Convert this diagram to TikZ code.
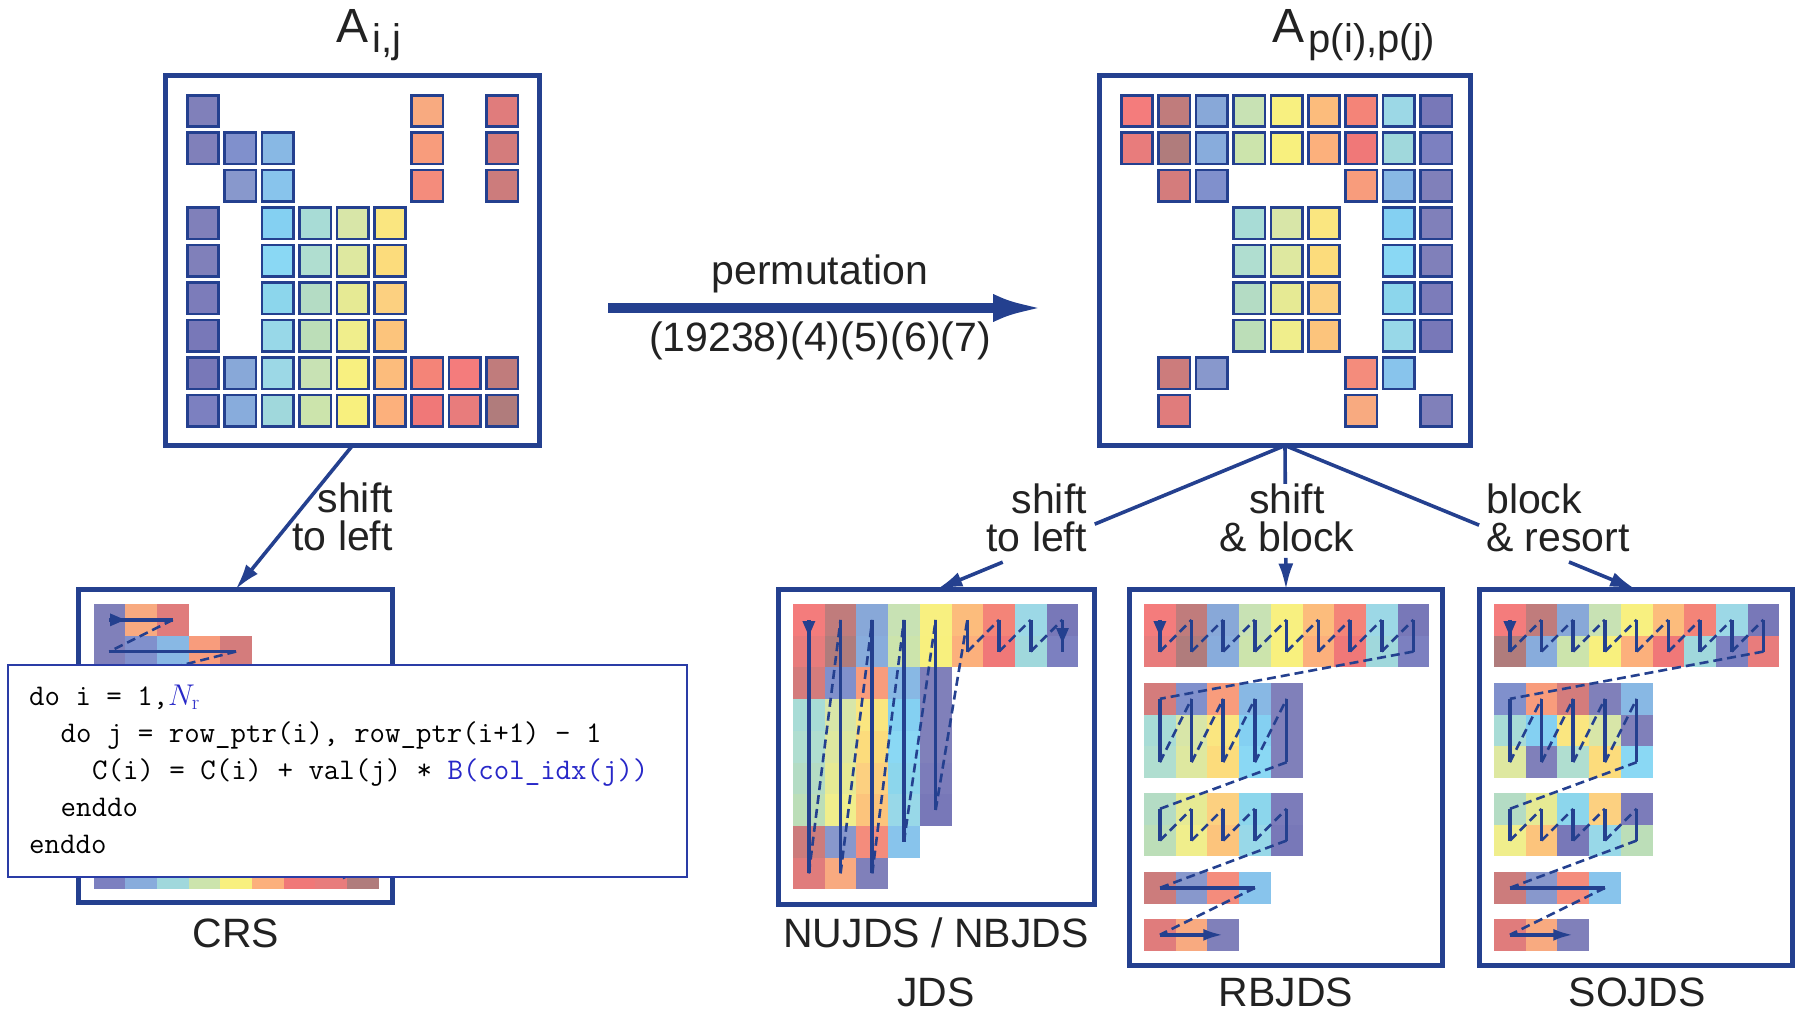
\documentclass[tikz,border=0pt]{standalone}
\usepackage{fix-cm}
\usepackage{fontspec}
\newfontfamily\lblfont{Liberation Sans}
\usetikzlibrary{arrows.meta,calc}
\definecolor{navyc}{HTML}{24408F}
\definecolor{txtc}{HTML}{222222}
\definecolor{codeframe}{HTML}{2A3CA6}
\definecolor{codeblue}{HTML}{2828C8}
\definecolor{pu1}{HTML}{8080BA}
\definecolor{pu2}{HTML}{7878B8}
\definecolor{pu3}{HTML}{7C80C0}
\definecolor{pu4}{HTML}{7C7CBA}
\definecolor{bl1}{HTML}{8090CC}
\definecolor{bl2}{HTML}{8898CC}
\definecolor{bl3}{HTML}{88A8D8}
\definecolor{bl4}{HTML}{88ACDC}
\definecolor{lb1}{HTML}{88B8E4}
\definecolor{lb2}{HTML}{88C4EC}
\definecolor{sk1}{HTML}{84D0F2}
\definecolor{sk2}{HTML}{8AD8F4}
\definecolor{sk3}{HTML}{8CD6EC}
\definecolor{cy1}{HTML}{98D8E8}
\definecolor{cy2}{HTML}{9CD8E6}
\definecolor{cy3}{HTML}{A0D8DC}
\definecolor{mi1}{HTML}{A8DCD6}
\definecolor{mi2}{HTML}{B0DED0}
\definecolor{mi3}{HTML}{B4DCC4}
\definecolor{gr1}{HTML}{BCDEB8}
\definecolor{gr2}{HTML}{C8E2B4}
\definecolor{gr3}{HTML}{CCE4AC}
\definecolor{yg1}{HTML}{D8E6A8}
\definecolor{yg2}{HTML}{DEE8A0}
\definecolor{yg3}{HTML}{E6EA94}
\definecolor{ye1}{HTML}{F0EE8C}
\definecolor{ye2}{HTML}{F8F080}
\definecolor{ye3}{HTML}{F8F07E}
\definecolor{yo1}{HTML}{FAE680}
\definecolor{yo2}{HTML}{FCDC7C}
\definecolor{yo3}{HTML}{FCD080}
\definecolor{or1}{HTML}{FCC47C}
\definecolor{or2}{HTML}{FCBC7C}
\definecolor{or3}{HTML}{FCB07C}
\definecolor{or4}{HTML}{F8AA80}
\definecolor{sa1}{HTML}{F89C7C}
\definecolor{sa2}{HTML}{F48C7C}
\definecolor{sa3}{HTML}{F48478}
\definecolor{re1}{HTML}{F07878}
\definecolor{re2}{HTML}{F47C7C}
\definecolor{re3}{HTML}{E87C7C}
\definecolor{re4}{HTML}{E07C7C}
\definecolor{ro1}{HTML}{D47C7C}
\definecolor{ro2}{HTML}{CC7C7C}
\definecolor{br1}{HTML}{C07C7C}
\definecolor{br2}{HTML}{B07C7C}
\tikzset{
  boxn/.style={draw=navyc,line width=5pt,inner sep=0pt,outer sep=0pt},
  conn/.style={draw=navyc,line width=3.6pt},
  arrowtip/.style={-{Latex[length=26pt,width=15pt]}},
  solidl/.style={draw=navyc,line width=3.6pt},
  dashl/.style={draw=navyc,line width=2.6pt,dash pattern=on 9pt off 5pt},
  lbl/.style={font=\lblfont\fontsize{41}{41}\selectfont,text=txtc,inner sep=0pt},
  ttl/.style={font=\lblfont\fontsize{48}{48}\selectfont,text=txtc,inner sep=0pt},
  subt/.style={font=\lblfont\fontsize{40}{40}\selectfont,text=txtc,inner sep=0pt},
  codet/.style={font=\ttfamily\fontsize{30}{37}\selectfont,text=black,inner sep=0pt},
}
\newcommand\mcellrow[3]{\foreach \j/\c in {#3}{\filldraw[fill=\c,draw=navyc,line width=2.6pt] ({#1+37.4*(\j-1)-15.7},{111+37.45*(#2-1)-15.7}) rectangle ++(31.4,31.4);}}
\newcommand\flatrow[3]{\foreach \c [count=\k from 0] in {#3}{\fill[fill=\c] ({#1+31.7*\k},{#2}) rectangle ++(31.75,31.75);}}
\newcommand\tridown[2]{\fill[navyc] ({#1-6.5},{#2}) -- ({#1+6.5},{#2}) -- ({#1},{#2+15}) -- cycle;}
\newcommand\triright[2]{\fill[navyc] ({#1},{#2-6.5}) -- ({#1},{#2+6.5}) -- ({#1+15},{#2}) -- cycle;}
\newcommand\blocklines[1]{%
  \foreach \j in {1,...,9}{\draw[solidl] ({#1+15.85+31.7*(\j-1)},619.85) -- ++(0,31.7);}
  \foreach \j in {1,...,8}{\draw[dashl] ({#1+15.85+31.7*(\j-1)},651.55) -- ({#1+15.85+31.7*\j},619.85);}
  \draw[dashl] ({#1+15.85+31.7*8},651.55) -- ({#1+15.85},698.85);
  \foreach \j in {1,...,5}{\draw[solidl] ({#1+15.85+31.7*(\j-1)},698.85) -- ++(0,63.4);}
  \foreach \j in {1,...,4}{\draw[dashl] ({#1+15.85+31.7*(\j-1)},762.25) -- ({#1+15.85+31.7*\j},698.85);}
  \draw[dashl] ({#1+15.85+31.7*4},762.25) -- ({#1+15.85},808.85);
  \foreach \j in {1,...,5}{\draw[solidl] ({#1+15.85+31.7*(\j-1)},808.85) -- ++(0,31.7);}
  \foreach \j in {1,...,4}{\draw[dashl] ({#1+15.85+31.7*(\j-1)},840.55) -- ({#1+15.85+31.7*\j},808.85);}
  \draw[dashl] ({#1+15.85+31.7*4},840.55) -- ({#1+15.85},887.85);
  \draw[solidl] ({#1+15.85},887.85) -- ({#1+15.85+31.7*3},887.85);
  \draw[dashl] ({#1+15.85+31.7*3},887.85) -- ({#1+15.85},934.85);
  \draw[solidl,-{Latex[length=20pt,width=12pt]}] ({#1+15.85},934.85) -- ({#1+15.85+31.7*2},934.85);
  \tridown{#1+15.85}{621}%
}
\begin{document}
\begin{tikzpicture}[x=1pt,y=-1pt]
\useasboundingbox (0,0) rectangle (1796,1016);
% ---------------- titles
\node[ttl,anchor=base west] (tA1) at (336,43) {A};
\node[subt,anchor=base west] (tS1) at ($(tA1.base east)+(4,10)$) {i,j};
\node[ttl,anchor=base west] (tA2) at (1272,43) {A};
\node[subt,anchor=base west] (tS2) at ($(tA2.base east)+(4,10)$) {p(i),p(j)};
% ---------------- matrix boxes
\node[boxn,minimum width=374pt,minimum height=370pt,anchor=north west] (mL) at (165.5,75.5) {};
\node[boxn,minimum width=371pt,minimum height=370pt,anchor=north west] (mR) at (1099.5,75.5) {};
% left matrix
\mcellrow{203}{1}{1/pu1,7/or4,9/re4}
\mcellrow{203}{2}{1/pu1,2/bl1,3/lb1,7/sa1,9/ro1}
\mcellrow{203}{3}{2/bl2,3/lb2,7/sa2,9/ro2}
\mcellrow{203}{4}{1/pu1,3/sk1,4/mi1,5/yg1,6/yo1}
\mcellrow{203}{5}{1/pu1,3/sk2,4/mi2,5/yg2,6/yo2}
\mcellrow{203}{6}{1/pu4,3/sk3,4/mi3,5/yg3,6/yo3}
\mcellrow{203}{7}{1/pu2,3/cy1,4/gr1,5/ye1,6/or1}
\mcellrow{203}{8}{1/pu2,2/bl3,3/cy2,4/gr2,5/ye2,6/or2,7/sa3,8/re2,9/br1}
\mcellrow{203}{9}{1/pu3,2/bl4,3/cy3,4/gr3,5/ye3,6/or3,7/re1,8/re3,9/br2}
% right matrix
\mcellrow{1137}{1}{1/re2,2/br1,3/bl3,4/gr2,5/ye2,6/or2,7/sa3,8/cy2,9/pu2}
\mcellrow{1137}{2}{1/re3,2/br2,3/bl4,4/gr3,5/ye3,6/or3,7/re1,8/cy3,9/pu3}
\mcellrow{1137}{3}{2/ro1,3/bl1,7/sa1,8/lb1,9/pu1}
\mcellrow{1137}{4}{4/mi1,5/yg1,6/yo1,8/sk1,9/pu1}
\mcellrow{1137}{5}{4/mi2,5/yg2,6/yo2,8/sk2,9/pu1}
\mcellrow{1137}{6}{4/mi3,5/yg3,6/yo3,8/sk3,9/pu4}
\mcellrow{1137}{7}{4/gr1,5/ye1,6/or1,8/cy1,9/pu2}
\mcellrow{1137}{8}{2/ro2,3/bl2,7/sa2,8/lb2}
\mcellrow{1137}{9}{2/re4,7/or4,9/pu1}
% ---------------- permutation arrow
\coordinate (pa) at (608,308);
\coordinate (pb) at (1043,308);
\draw[draw=navyc,line width=9pt,-{Latex[length=50pt,width=28pt]}] (pa) -- (pb);
\node[lbl,anchor=base] (perm) at (820,284) {permutation};
\node[lbl,anchor=base] (cyc) at (820,351) {(19238)(4)(5)(6)(7)};
% ---------------- lower boxes
\node[boxn,minimum width=314pt,minimum height=313pt,anchor=north west] (crs) at (78.5,589.5) {};
\node[boxn,minimum width=316pt,minimum height=315pt,anchor=north west] (jds) at (778.5,589.5) {};
\node[boxn,minimum width=313pt,minimum height=376pt,anchor=north west] (rb) at (1129.5,589.5) {};
\node[boxn,minimum width=313pt,minimum height=376pt,anchor=north west] (so) at (1479.5,589.5) {};
% ---------------- connectors
\draw[conn,arrowtip] (mL.south) -- (crs.north);
\node[lbl,anchor=base east] (l1a) at (393,512) {shift};
\node[lbl,anchor=base east] (l1b) at (393,550) {to left};
\coordinate (g1a) at ($(mR.south)!0.546!(jds.north)$);
\coordinate (g1b) at ($(mR.south)!0.81!(jds.north)$);
\draw[conn] (mR.south) -- (g1a);
\draw[conn,arrowtip] (g1b) -- (jds.north);
\coordinate (g2a) at ($(mR.south)!0.267!(rb.north)$);
\coordinate (g2b) at ($(mR.south)!0.78!(rb.north)$);
\draw[conn] (mR.south) -- (g2a);
\draw[conn,arrowtip] (g2b) -- (rb.north);
\coordinate (g3a) at ($(mR.south)!0.553!(so.north)$);
\coordinate (g3b) at ($(mR.south)!0.809!(so.north)$);
\draw[conn] (mR.south) -- (g3a);
\draw[conn,arrowtip] (g3b) -- (so.north);
\node[lbl,anchor=base east] (l2a) at (1087,513) {shift};
\node[lbl,anchor=base east] (l2b) at (1087,551) {to left};
\node[lbl,anchor=base] (l3a) at (1287,513) {shift};
\node[lbl,anchor=base] (l3b) at (1287,551) {\& block};
\node[lbl,anchor=base west] (l4a) at (1486,513) {block};
\node[lbl,anchor=base west] (l4b) at (1486,551) {\& resort};
% ---------------- CRS content
\flatrow{93.5}{604}{pu1,or4,re4}
\flatrow{93.5}{635.7}{pu1,bl1,lb1,sa1,ro1}
\flatrow{93.5}{667.4}{bl2,lb2,sa2,ro2}
\flatrow{93.5}{699.1}{pu1,sk1,mi1,yg1,yo1}
\flatrow{93.5}{730.8}{pu1,sk2,mi2,yg2,yo2}
\flatrow{93.5}{762.5}{pu4,sk3,mi3,yg3,yo3}
\flatrow{93.5}{794.2}{pu2,cy1,gr1,ye1,or1}
\flatrow{93.5}{825.9}{pu2,bl3,cy2,gr2,ye2,or2,sa3,re2,br1}
\flatrow{93.5}{857.6}{pu3,bl4,cy3,gr3,ye3,or3,re1,re3,br2}
\foreach \i/\n in {1/3,2/5,3/4,4/5,5/5,6/5,7/5,8/9}{%
  \draw[solidl] (109.35,{619.85+31.7*(\i-1)}) -- ({109.35+31.7*(\n-1)},{619.85+31.7*(\i-1)});
  \draw[dashl] ({109.35+31.7*(\n-1)},{619.85+31.7*(\i-1)}) -- (109.35,{619.85+31.7*\i});
}
\draw[solidl,-{Latex[length=20pt,width=12pt]}] (109.35,873.45) -- ({109.35+31.7*8},873.45);
\triright{110}{619.85}
% code box
\node[draw=codeframe,fill=white,line width=1.6pt,inner sep=0pt,outer sep=0pt,minimum width=679pt,minimum height=212pt,anchor=north west] (code) at (8,665) {};
\node[codet,anchor=base west] (c1) at (29,705) {do i = 1,\textcolor{codeblue}{$N_{\mathrm{r}}$}};
\node[codet,anchor=base west] (c2) at (60.5,742) {do j = row\_ptr(i), row\_ptr(i+1) - 1};
\node[codet,anchor=base west] (c3) at (92,779) {C(i) = C(i) + val(j) * \textcolor{codeblue}{B(col\_idx(j))}};
\node[codet,anchor=base west] (c4) at (60.5,816) {enddo};
\node[codet,anchor=base west] (c5) at (29,853) {enddo};
% ---------------- JDS content
\flatrow{793}{604}{re2,br1,bl3,gr2,ye2,or2,sa3,cy2,pu2}
\flatrow{793}{635.7}{re3,br2,bl4,gr3,ye3,or3,re1,cy3,pu3}
\flatrow{793}{667.4}{ro1,bl1,sa1,lb1,pu1}
\flatrow{793}{699.1}{mi1,yg1,yo1,sk1,pu1}
\flatrow{793}{730.8}{mi2,yg2,yo2,sk2,pu1}
\flatrow{793}{762.5}{mi3,yg3,yo3,sk3,pu4}
\flatrow{793}{794.2}{gr1,ye1,or1,cy1,pu2}
\flatrow{793}{825.9}{ro2,bl2,sa2,lb2}
\flatrow{793}{857.6}{re4,or4,pu1}
\foreach \j/\m in {1/9,2/9,3/9,4/8,5/7,6/2,7/2,8/2,9/2}{%
  \draw[solidl] ({808.85+31.7*(\j-1)},619.85) -- ({808.85+31.7*(\j-1)},{619.85+31.7*(\m-1)});
}
\foreach \j/\m in {1/9,2/9,3/9,4/8,5/7,6/2,7/2,8/2}{%
  \draw[dashl] ({808.85+31.7*(\j-1)},{619.85+31.7*(\m-1)}) -- ({808.85+31.7*\j},619.85);
}
\tridown{808.85}{621}
\tridown{1062.45}{628}
% ---------------- RBJDS content
\flatrow{1144}{604}{re2,br1,bl3,gr2,ye2,or2,sa3,cy2,pu2}
\flatrow{1144}{635.7}{re3,br2,bl4,gr3,ye3,or3,re1,cy3,pu3}
\flatrow{1144}{683}{ro1,bl1,sa1,lb1,pu1}
\flatrow{1144}{714.7}{mi1,yg1,yo1,sk1,pu1}
\flatrow{1144}{746.4}{mi2,yg2,yo2,sk2,pu1}
\flatrow{1144}{793}{mi3,yg3,yo3,sk3,pu4}
\flatrow{1144}{824.7}{gr1,ye1,or1,cy1,pu2}
\flatrow{1144}{872}{ro2,bl2,sa2,lb2}
\flatrow{1144}{919}{re4,or4,pu1}
\blocklines{1144}
% ---------------- SOJDS content
\flatrow{1494}{604}{re2,br1,bl3,gr2,ye2,or2,sa3,cy2,pu2}
\flatrow{1494}{635.7}{br2,bl4,gr3,ye3,or3,re1,cy3,pu3,re3}
\flatrow{1494}{683}{bl1,sa1,ro1,pu1,lb1}
\flatrow{1494}{714.7}{mi1,sk1,yo1,yg1,pu1}
\flatrow{1494}{746.4}{yg2,pu1,mi2,yo2,sk2}
\flatrow{1494}{793}{mi3,yg3,sk3,yo3,pu4}
\flatrow{1494}{824.7}{ye1,or1,pu2,cy1,gr1}
\flatrow{1494}{872}{ro2,bl2,sa2,lb2}
\flatrow{1494}{919}{re4,or4,pu1}
\blocklines{1494}
% ---------------- bottom labels
\node[lbl,anchor=base] (nCRS) at (236,947) {CRS};
\node[lbl,anchor=base] (nNU) at (936,947) {NUJDS / NBJDS};
\node[lbl,anchor=base] (nJDS) at (936,1006) {JDS};
\node[lbl,anchor=base] (nRB) at (1286,1006) {RBJDS};
\node[lbl,anchor=base] (nSO) at (1637,1006) {SOJDS};
\end{tikzpicture}
\end{document}
